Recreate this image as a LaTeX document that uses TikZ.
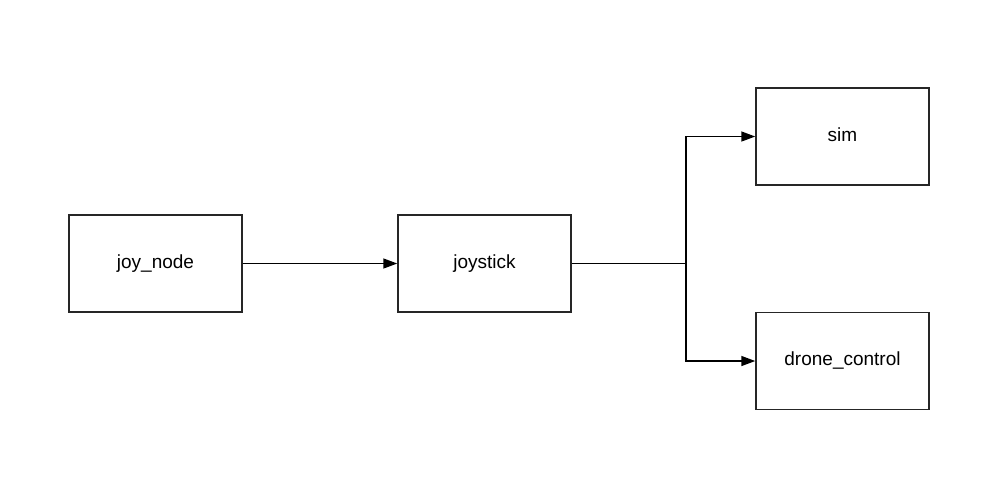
\documentclass[tikz,border=0pt]{standalone}
\usepackage{fontspec}
\setmainfont{Liberation Sans}
\usetikzlibrary{arrows.meta, positioning}
\tikzset{
    procbox/.style={
        rectangle,
        draw=black!85,
        fill=white,
        line width=1.5pt,
        align=center,
        minimum width=173pt,
        minimum height=97pt,
        text depth=4pt,
        font=\fontsize{19}{23}\selectfont
    },
    arrow/.style={
        -{Triangle[length=14pt,width=10pt]},
        line width=1.5pt,
        color=black
    },
}
\begin{document}
\begin{tikzpicture}[x=1pt, y=-1pt]
    \useasboundingbox (0,0) rectangle (1008,495);
    \node[procbox] (joynode) at (155.5,263.5) {joy\_node};
    \node[procbox, right=154.5pt of joynode] (joystick) {joystick};
    \node[procbox, right=183.5pt of joystick, yshift=127pt] (sim) {sim};
    \node[procbox, right=183.5pt of joystick, yshift=-97.5pt] (drone) {drone\_control};
    \coordinate[right=114pt of joystick] (split);

    \draw[arrow] (joynode) -- (joystick);
    \draw[line width=1.5pt] (joystick) -- (split);
    \draw[arrow] (split) |- (sim);
    \draw[arrow] (split) |- (drone);
\end{tikzpicture}
\end{document}
